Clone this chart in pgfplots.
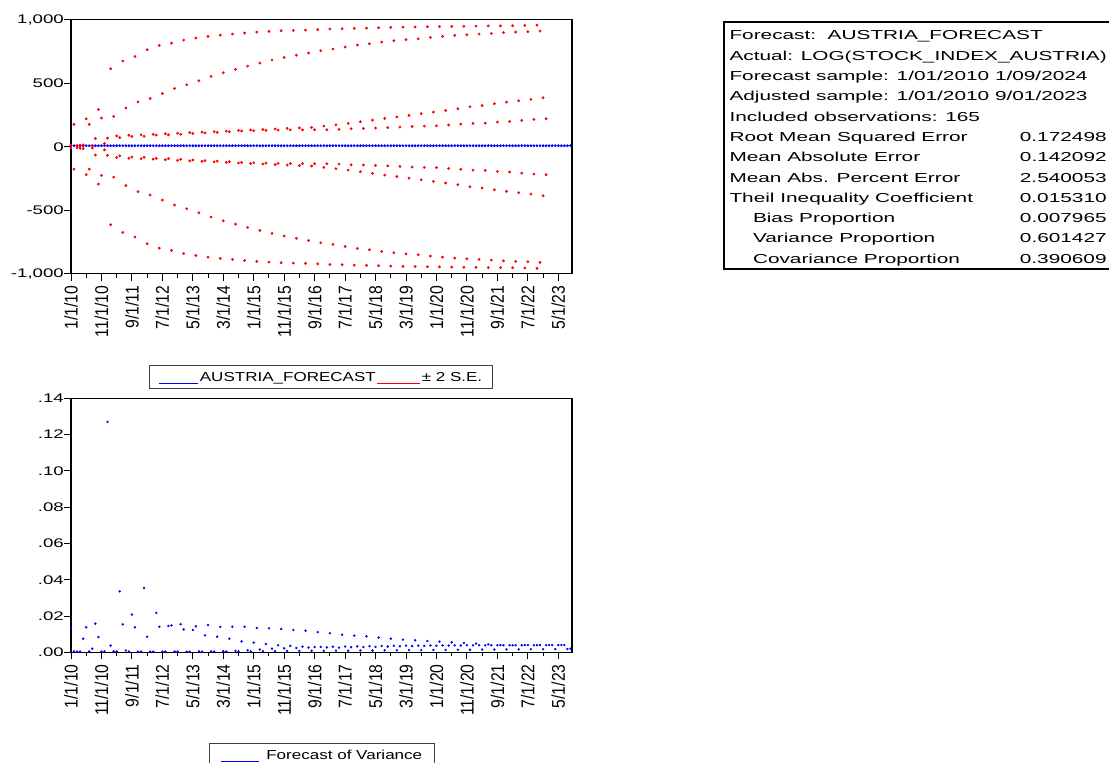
\documentclass[border=0pt]{standalone}
\usepackage{fontspec}
\setmainfont{Liberation Sans}
\newfontfamily\tabfont{Liberation Sans}[FakeStretch=1.6]
\newfontfamily\tickfont{Liberation Sans}[FakeStretch=1.49]
\newfontfamily\legfont{Liberation Sans}[FakeStretch=1.31]
\newfontfamily\rotfont{Liberation Sans}[FakeStretch=0.85]
\usepackage{pgfplots}
\pgfplotsset{compat=1.18}
\usepackage{pgfplotstable}

\pgfplotstableread{
m f up lo
0 8 10 -10
1 8 176 -176
2 8 8 -8
3 8 12 -12
4 8 15 -15
5 8 220 -220
6 8 176 -176
7 8 10 -10
8 8 65 -65
9 8 294 -294
10 8 226 -226
11 8 25 -25
12 8 68 -68
13 8 614 -614
14 8 239 -239
15 8 85 -85
16 8 72 -72
17 8 675 -675
18 8 305 -305
19 8 90 -90
20 8 81 -81
21 8 711 -711
22 8 354 -354
23 8 94 -94
24 8 83 -83
25 8 764 -764
26 8 380 -380
27 8 98 -98
28 8 91 -91
29 8 798 -798
30 8 420 -420
31 8 102 -102
32 8 94 -94
33 8 816 -816
34 8 459 -459
35 8 107 -107
36 8 99 -99
37 8 840 -840
38 8 488 -488
39 8 111 -111
40 8 104 -104
41 8 856 -856
42 8 520 -520
43 8 115 -115
44 8 110 -110
45 8 869 -869
46 8 554 -554
47 8 119 -119
48 8 113 -113
49 8 879 -879
50 8 583 -583
51 8 123 -123
52 8 118 -118
53 8 887 -887
54 8 609 -609
55 8 128 -128
56 8 124 -124
57 8 895 -895
58 8 635 -635
59 8 132 -132
60 8 126 -126
61 8 903 -903
62 8 659 -659
63 8 136 -136
64 8 129 -129
65 8 908 -908
66 8 683 -683
67 8 140 -140
68 8 131 -131
69 8 913 -913
70 8 703 -703
71 8 144 -144
72 8 132 -132
73 8 916 -916
74 8 721 -721
75 8 148 -148
76 8 133 -133
77 8 919 -919
78 8 738 -738
79 8 152 -152
80 8 134 -134
81 8 922 -922
82 8 756 -756
83 8 163 -163
84 8 134 -134
85 8 927 -927
86 8 769 -769
87 8 173 -173
88 8 136 -136
89 8 929 -929
90 8 785 -785
91 8 184 -184
92 8 142 -142
93 8 932 -932
94 8 801 -801
95 8 197 -197
96 8 144 -144
97 8 934 -934
98 8 811 -811
99 8 210 -210
100 8 147 -147
101 8 937 -937
102 8 824 -824
103 8 223 -223
104 8 150 -150
105 8 940 -940
106 8 835 -835
107 8 234 -234
108 8 155 -155
109 8 942 -942
110 8 843 -843
111 8 247 -247
112 8 160 -160
113 8 943 -943
114 8 850 -850
115 8 260 -260
116 8 163 -163
117 8 945 -945
118 8 861 -861
119 8 273 -273
120 8 165 -165
121 8 946 -946
122 8 869 -869
123 8 286 -286
124 8 171 -171
125 8 948 -948
126 8 877 -877
127 8 299 -299
128 8 178 -178
129 8 949 -949
130 8 882 -882
131 8 315 -315
132 8 184 -184
133 8 950 -950
134 8 887 -887
135 8 325 -325
136 8 186 -186
137 8 951 -951
138 8 892 -892
139 8 339 -339
140 8 194 -194
141 8 952 -952
142 8 898 -898
143 8 352 -352
144 8 199 -199
145 8 953 -953
146 8 903 -903
147 8 362 -362
148 8 207 -207
149 8 955 -955
150 8 906 -906
151 8 373 -373
152 8 215 -215
153 8 958 -958
154 8 911 -911
155 8 386 -386
156 8 220 -220
157 8 nan nan
158 8 nan nan
159 8 nan nan
160 8 nan nan
161 8 nan nan
162 8 nan nan
163 8 nan nan
164 8 nan nan
}\bandtable

\pgfplotstableread{
m v
0 0.0136
1 0.0005
2 0.0004
3 0.0004
4 0.0075
5 0.0138
6 0.0005
7 0.0020
8 0.0158
9 0.0084
10 0.0004
11 0.0005
12 0.1270
13 0.0037
14 0.0005
15 0.0005
16 0.0336
17 0.0154
18 0.0010
19 0.0004
20 0.0208
21 0.0138
22 0.0004
23 0.0004
24 0.0355
25 0.0086
26 0.0004
27 0.0004
28 0.0217
29 0.0141
30 0.0004
31 0.0004
32 0.0145
33 0.0148
34 0.0004
35 0.0004
36 0.0155
37 0.0126
38 0.0004
39 0.0004
40 0.0123
41 0.0143
42 0.0005
43 0.0004
44 0.0093
45 0.0150
46 0.0005
47 0.0004
48 0.0086
49 0.0140
50 0.0006
51 0.0004
52 0.0075
53 0.0141
54 0.0008
55 0.0005
56 0.0060
57 0.0141
58 0.0011
59 0.0005
60 0.0053
61 0.0134
62 0.0015
63 0.0006
64 0.0046
65 0.0132
66 0.0020
67 0.0006
68 0.0039
69 0.0129
70 0.0022
71 0.0007
72 0.0035
73 0.0123
74 0.0024
75 0.0007
76 0.0031
77 0.0119
78 0.0026
79 0.0008
80 0.0029
81 0.0111
82 0.0030
83 0.0008
84 0.0027
85 0.0105
86 0.0031
87 0.0009
88 0.0026
89 0.0097
90 0.0032
91 0.0009
92 0.0028
93 0.0092
94 0.0033
95 0.0010
96 0.0029
97 0.0088
98 0.0034
99 0.0010
100 0.0030
101 0.0081
102 0.0035
103 0.0011
104 0.0032
105 0.0075
106 0.0036
107 0.0011
108 0.0033
109 0.0070
110 0.0037
111 0.0012
112 0.0034
113 0.0066
114 0.0037
115 0.0012
116 0.0035
117 0.0062
118 0.0038
119 0.0013
120 0.0036
121 0.0059
122 0.0038
123 0.0013
124 0.0037
125 0.0055
126 0.0038
127 0.0014
128 0.0037
129 0.0051
130 0.0039
131 0.0014
132 0.0038
133 0.0048
134 0.0039
135 0.0015
136 0.0038
137 0.0044
138 0.0039
139 0.0015
140 0.0039
141 0.0040
142 0.0039
143 0.0016
144 0.0039
145 0.0039
146 0.0039
147 0.0016
148 0.0039
149 0.0040
150 0.0040
151 0.0017
152 0.0039
153 0.0039
154 0.0040
155 0.0017
156 0.0039
157 0.0040
158 0.0040
159 0.0018
160 0.0040
161 0.0040
162 0.0040
163 0.0018
164 0.0020
}\vartable

\pgfplotsset{
  evstyle/.style={
    scale only axis, width=501pt, height=254pt, anchor=south west,
    xmin=0, xmax=164.5, clip=false,
    axis line style={line width=1.1pt, black},
    tick align=outside, tick pos=left,
    major tick length=7pt, minor tick length=4pt,
    tick style={line width=1pt, black},
    xtick={0,10,...,160},
    minor xtick={5,15,...,155},
    xticklabels={1/1/10,11/1/10,9/1/11,7/1/12,5/1/13,3/1/14,1/1/15,11/1/15,9/1/16,7/1/17,5/1/18,3/1/19,1/1/20,11/1/20,9/1/21,7/1/22,5/1/23},
    xticklabel shift=5pt,
    xticklabel style={font=\rotfont\fontsize{18.5}{18.5}\selectfont, rotate=90, anchor=east, inner sep=0pt},
    yticklabel style={font=\tickfont\fontsize{12.5}{14}\selectfont, anchor=east, inner sep=0pt},
    legend columns=-1,
  },
  evlegend/.style={
    legend style={draw=black!75, line width=0.9pt, inner ysep=0pt,
      font=\legfont\fontsize{13}{15}\selectfont,
      nodes={inner sep=1pt, text height=15pt, text depth=6pt},
      /tikz/every even column/.style={column sep=0pt},
      /tikz/every odd column/.style={column sep=0pt}},
  }
}

\begin{document}
\begin{tikzpicture}[x=1pt,y=1pt]
\clip (0,0) rectangle (1109,763);
\fill[white] (0,0) rectangle (1109,763);

% ---------- top panel ----------
\begin{axis}[evstyle, evlegend, at={(71pt,489.25pt)},
  ymin=-1000, ymax=1000,
  ytick={-1000,-500,0,500,1000},
  yticklabels={{-1,000},{-500},{0},{500},{1,000}},
  legend style={at={(0.1557,-0.3593)}, anchor=north west, inner xsep=9.5pt},
]
\addplot[only marks, mark=*, blue, mark size=1.2pt,
  legend image code/.code={\draw[blue, line width=0.9pt] (0pt,-6.1pt)--(39pt,-6.1pt);}]
  table[x=m, y=f] {\bandtable};
\addlegendentry{AUSTRIA\_FORECAST}
\addplot[only marks, mark=*, red, mark size=1.2pt,
  legend image code/.code={\draw[red, line width=0.9pt] (1pt,-6.1pt)--(44pt,-6.1pt);}]
  table[x=m, y=up] {\bandtable};
\addlegendentry{± 2 S.E.}
\addplot[only marks, mark=*, red, mark size=1.2pt, forget plot]
  table[x=m, y=lo] {\bandtable};
\end{axis}

% ---------- bottom panel ----------
\begin{axis}[evstyle, evlegend, at={(71pt,110.7pt)},
  ymin=0, ymax=0.14,
  ytick={0,0.02,0.04,0.06,0.08,0.10,0.12,0.14},
  yticklabels={.00,.02,.04,.06,.08,.10,.12,.14},
  legend style={at={(0.2754,-0.357)}, anchor=north west, inner xsep=11.5pt},
]
\addplot[only marks, mark=*, blue, mark size=1pt,
  legend image code/.code={\draw[blue, line width=0.9pt] (0pt,-6.1pt)--(38pt,-6.1pt); \path (43.5pt,0pt);}]
  table[x=m, y=v] {\vartable};
\addlegendentry{Forecast of Variance}
\end{axis}

% ---------- statistics box ----------
\draw[line width=1.8pt] (724.3,741) rectangle (1116,494);
\node[anchor=base west, inner sep=0pt] at (729.3,723) {%
  \tabfont\fontsize{13}{20.3}\selectfont
  \begin{tabular*}{374pt}[t]{@{}l@{\extracolsep{\fill}}r@{}}
  \multicolumn{2}{@{}l@{}}{Forecast:\ \ AUSTRIA\_FORECAST}\\
  \multicolumn{2}{@{}l@{}}{Actual: LOG(STOCK\_INDEX\_AUSTRIA)}\\
  \multicolumn{2}{@{}l@{}}{Forecast sample: 1/01/2010 1/09/2024}\\
  \multicolumn{2}{@{}l@{}}{Adjusted sample: 1/01/2010 9/01/2023}\\
  \multicolumn{2}{@{}l@{}}{Included observations: 165}\\
  Root Mean Squared Error & 0.172498\\
  Mean Absolute Error & 0.142092\\
  Mean Abs. Percent Error & 2.540053\\
  Theil Inequality Coefficient & 0.015310\\
  \hspace*{23.5pt}Bias Proportion & 0.007965\\
  \hspace*{23.5pt}Variance Proportion & 0.601427\\
  \hspace*{23.5pt}Covariance Proportion & 0.390609\\
  \end{tabular*}};
\end{tikzpicture}
\end{document}
